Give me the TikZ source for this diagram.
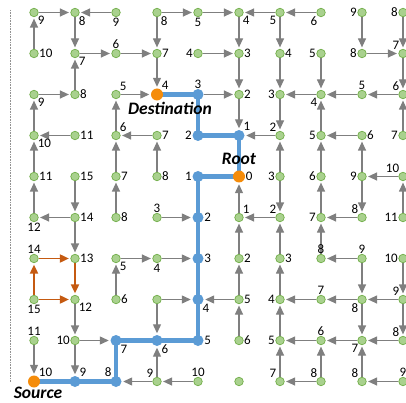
\documentclass[tikz,border=0pt]{standalone}
\usepackage{fontspec}
\setmainfont{Carlito}
\usetikzlibrary{arrows.meta}
\definecolor{gfill}{RGB}{169,209,142}
\definecolor{gline}{RGB}{112,173,71}
\definecolor{bblue}{RGB}{91,155,213}
\definecolor{orng}{RGB}{245,140,10}
\definecolor{oarrow}{RGB}{197,90,17}
\definecolor{garrow}{RGB}{127,127,127}
\pgfdeclarelayer{bg}
\pgfsetlayers{bg,main}
\newcommand\nd[5]{\node[#1,label={[lb]#5:#4}] (n#2#3) at ({34+41*#2},{12.5+41*#3}) {};}
\newcommand\garr[2]{\draw[ga] (n#1) -- (n#2);}
\newcommand\oarr[2]{\draw[oa] (n#1) -- (n#2);}
\begin{document}
\begin{tikzpicture}[x=1pt,y=-1pt,
 gn/.style={circle,fill=gfill,draw=gline,line width=0.7pt,minimum size=8.5pt,inner sep=0pt},
 bn/.style={circle,fill=bblue,minimum size=11pt,inner sep=0pt},
 on/.style={circle,fill=orng,minimum size=12pt,inner sep=0pt},
 lb/.style={font=\fontsize{13}{13}\selectfont,inner sep=0.4pt,text=black},
 ga/.style={draw=garrow,line width=1.2pt,-{Triangle[length=9pt,width=8pt]},shorten >=1.5pt},
 oa/.style={draw=oarrow,line width=1.8pt,-{Triangle[length=9pt,width=8pt]},shorten >=1.5pt},
 bl/.style={draw=bblue,line width=4.8pt},
 tt/.style={font=\fontsize{17.5}{17.5}\selectfont\bfseries\itshape,inner sep=0pt},
 label distance=0pt]
\path[use as bounding box] (0,0) rectangle (406,403);
% row 0
\nd{gn}{0}{0}{9}{below right}
\nd{gn}{1}{0}{8}{below right}
\nd{gn}{2}{0}{9}{below}
\nd{gn}{3}{0}{8}{below right}
\nd{gn}{4}{0}{5}{below}
\nd{gn}{5}{0}{4}{below right}
\nd{gn}{6}{0}{5}{below left}
\nd{gn}{7}{0}{6}{below left}
\nd{gn}{8}{0}{9}{left}
\nd{gn}{9}{0}{8}{left}
% row 1
\nd{gn}{0}{1}{10}{right}
\nd{gn}{1}{1}{7}{below right}
\nd{gn}{2}{1}{6}{above}
\nd{gn}{3}{1}{7}{right}
\nd{gn}{4}{1}{4}{left}
\nd{gn}{5}{1}{3}{right}
\nd{gn}{6}{1}{4}{right}
\nd{gn}{7}{1}{5}{left}
\nd{gn}{8}{1}{8}{left}
\nd{gn}{9}{1}{7}{above left}
% row 2
\nd{gn}{0}{2}{9}{below right}
\nd{gn}{1}{2}{8}{right}
\nd{gn}{2}{2}{5}{above right}
\nd{on}{3}{2}{4}{above right}
\nd{bn}{4}{2}{3}{above}
\nd{gn}{5}{2}{2}{right}
\nd{gn}{6}{2}{3}{left}
\nd{gn}{7}{2}{4}{below left}
\nd{gn}{8}{2}{5}{above}
\nd{gn}{9}{2}{6}{above left}
% row 3
\nd{gn}{0}{3}{10}{below right}
\nd{gn}{1}{3}{11}{right}
\nd{gn}{2}{3}{6}{above right}
\nd{gn}{3}{3}{7}{right}
\nd{bn}{4}{3}{2}{left}
\nd{bn}{5}{3}{1}{above right}
\nd{gn}{6}{3}{2}{above left}
\nd{gn}{7}{3}{5}{left}
\nd{gn}{8}{3}{6}{right}
\nd{gn}{9}{3}{7}{left}
% row 4
\nd{gn}{0}{4}{11}{right}
\nd{gn}{1}{4}{15}{right}
\nd{gn}{2}{4}{7}{right}
\nd{gn}{3}{4}{8}{right}
\nd{bn}{4}{4}{1}{left}
\nd{on}{5}{4}{0}{right}
\nd{gn}{6}{4}{3}{left}
\nd{gn}{7}{4}{6}{left}
\nd{gn}{8}{4}{9}{left}
\nd{gn}{9}{4}{10}{above left}
% row 5
\nd{gn}{0}{5}{12}{below}
\nd{gn}{1}{5}{14}{right}
\nd{gn}{2}{5}{8}{right}
\nd{gn}{3}{5}{3}{above}
\nd{bn}{4}{5}{2}{right}
\nd{gn}{5}{5}{1}{above right}
\nd{gn}{6}{5}{2}{above left}
\nd{gn}{7}{5}{7}{left}
\nd{gn}{8}{5}{8}{above left}
\nd{gn}{9}{5}{11}{left}
% row 6
\nd{gn}{0}{6}{14}{above}
\nd{gn}{1}{6}{13}{right}
\nd{gn}{2}{6}{5}{below right}
\nd{gn}{3}{6}{4}{below}
\nd{bn}{4}{6}{3}{right}
\nd{gn}{5}{6}{2}{right}
\nd{gn}{6}{6}{3}{right}
\nd{gn}{7}{6}{8}{above}
\nd{gn}{8}{6}{9}{above}
\nd{gn}{9}{6}{10}{left}
% row 7
\nd{gn}{0}{7}{15}{below}
\nd{gn}{1}{7}{12}{below right}
\nd{gn}{2}{7}{6}{right}
\node[gn] (n37) at ({34+41*3},{12.5+41*7}) {};
\nd{bn}{4}{7}{4}{below right}
\nd{gn}{5}{7}{5}{right}
\nd{gn}{6}{7}{4}{left}
\nd{gn}{7}{7}{7}{above}
\nd{gn}{8}{7}{8}{below left}
\nd{gn}{9}{7}{9}{above left}
% row 8
\nd{gn}{0}{8}{11}{above}
\nd{gn}{1}{8}{10}{left}
\nd{bn}{2}{8}{7}{below right}
\nd{bn}{3}{8}{6}{below right}
\nd{bn}{4}{8}{5}{right}
\nd{gn}{5}{8}{6}{right}
\nd{gn}{6}{8}{5}{left}
\nd{gn}{7}{8}{6}{above}
\nd{gn}{8}{8}{7}{below left}
\nd{gn}{9}{8}{8}{above left}
% row 9
\nd{on}{0}{9}{10}{above right}
\nd{bn}{1}{9}{9}{above right}
\nd{bn}{2}{9}{8}{above left}
\nd{gn}{3}{9}{9}{above left}
\nd{gn}{4}{9}{10}{above}
\node[gn] (n59) at ({34+41*5},{12.5+41*9}) {};
\nd{gn}{6}{9}{7}{above left}
\nd{gn}{7}{9}{8}{above left}
\nd{gn}{8}{9}{8}{above left}
\nd{gn}{9}{9}{9}{above}
% titles
\node[tt] (dest) at (170,108) {Destination};
\node[tt] (root) at (239,159) {Root};
\node[tt] (src) at (38,393) {Source};
\coordinate (dl1) at (10,10);
\coordinate (dl2) at (10,382);
\begin{pgfonlayer}{bg}
\draw[garrow!85, line width=0.8pt, dash pattern=on 0.8pt off 0.8pt] (dl1) -- (dl2);
\garr{01}{00}\garr{03}{02}\garr{04}{03}\garr{05}{04}\garr{08}{09}
\garr{00}{10}\garr{20}{10}\garr{30}{40}\garr{40}{50}\garr{60}{50}\garr{70}{60}
\garr{10}{11}\garr{12}{11}\garr{14}{15}\garr{15}{16}\garr{17}{18}\garr{18}{19}
\garr{11}{21}\garr{21}{31}\garr{41}{51}\garr{81}{91}
\garr{30}{31}\garr{31}{32}\garr{34}{33}\garr{37}{38}\garr{39}{38}
\garr{02}{12}\garr{22}{32}\garr{42}{52}\garr{72}{62}\garr{82}{72}\garr{92}{82}
\garr{23}{22}\garr{24}{23}\garr{25}{24}\garr{27}{26}
\garr{13}{03}\garr{33}{23}\garr{63}{53}\garr{83}{73}
\garr{15}{05}\garr{35}{45}\garr{65}{55}\garr{85}{75}
\garr{26}{36}\garr{36}{46}\garr{86}{76}
\garr{37}{47}\garr{57}{47}\garr{77}{67}\garr{87}{77}\garr{97}{87}
\garr{18}{28}\garr{78}{68}\garr{88}{78}\garr{98}{88}
\garr{39}{29}\garr{49}{39}\garr{79}{69}\garr{99}{89}
\garr{94}{84}
\garr{50}{51}\garr{51}{52}\garr{52}{53}\garr{55}{54}\garr{56}{55}\garr{57}{56}\garr{58}{57}
\garr{60}{61}\garr{61}{62}\garr{62}{63}\garr{64}{63}\garr{64}{65}\garr{66}{65}\garr{67}{66}\garr{68}{67}\garr{69}{68}
\garr{71}{72}\garr{73}{72}\garr{74}{73}\garr{75}{74}\garr{76}{75}\garr{79}{78}
\garr{80}{81}\garr{84}{83}\garr{84}{85}\garr{86}{87}\garr{87}{88}\garr{89}{88}
\garr{90}{91}\garr{91}{92}\garr{93}{92}\garr{95}{94}\garr{96}{97}\garr{97}{98}
\oarr{07}{06}\oarr{06}{16}\oarr{16}{17}\oarr{07}{17}
\draw[bl] (n09.center) -- (n19.center) -- (n29.center) -- (n28.center) -- (n38.center) -- (n48.center) -- (n47.center) -- (n46.center) -- (n45.center) -- (n44.center) -- (n54.center) -- (n53.center) -- (n43.center) -- (n42.center) -- (n32.center);
\end{pgfonlayer}
\end{tikzpicture}
\end{document}
